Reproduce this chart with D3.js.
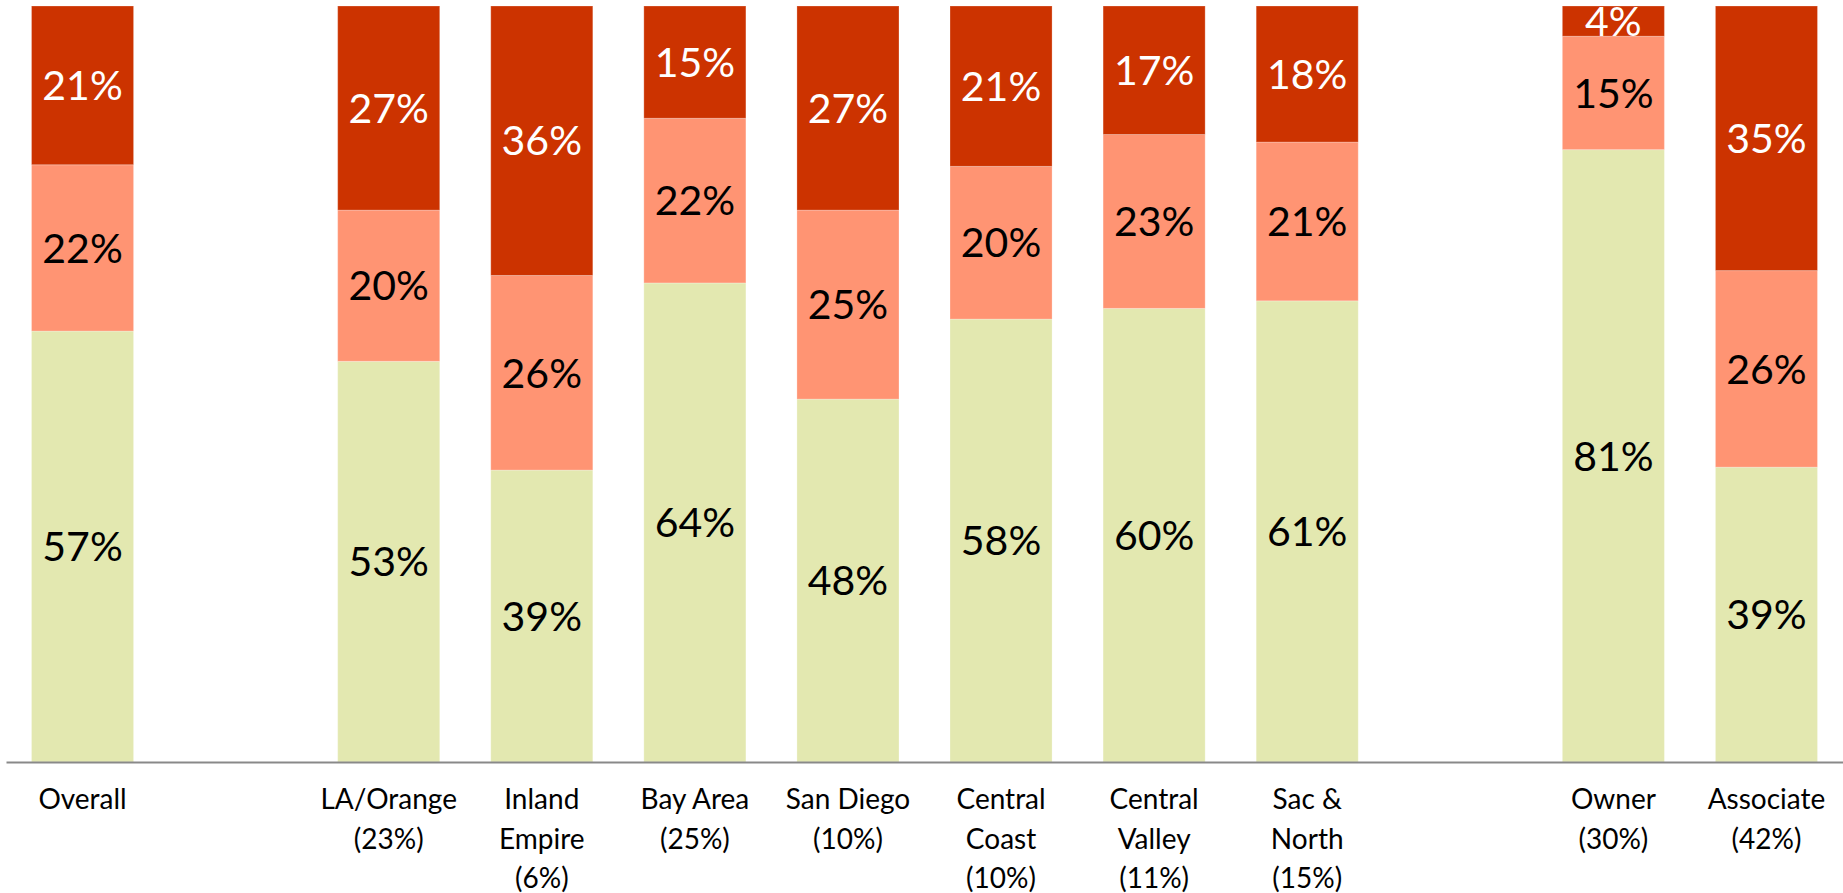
<!DOCTYPE html>
<html>
<head>
<meta charset="utf-8">
<script src="https://cdn.jsdelivr.net/npm/d3@7"></script>
<style>
  body { margin: 0; background: #fff; }
  svg { display: block; }
</style>
</head>
<body>
<div id="chart"></div>
<script>
// categories ("" = empty slot), lines split by \n
var categories = ["Overall", "", "LA/Orange\n(23%)", "Inland\nEmpire\n(6%)", "Bay Area\n(25%)",
  "San Diego\n(10%)", "Central\nCoast\n(10%)", "Central\nValley\n(11%)", "Sac &\nNorth\n(15%)",
  "", "Owner\n(30%)", "Associate\n(42%)"];

// segment values, bottom to top (null for empty slots)
var seriesLow  = [57, null, 53, 39, 64, 48, 58, 60, 61, null, 81, 39];
var seriesMid  = [22, null, 20, 26, 22, 25, 20, 23, 21, null, 15, 26];
var seriesHigh = [21, null, 27, 36, 15, 27, 21, 17, 18, null,  4, 35];

var seriesKeys = ["low", "mid", "high"];
var seriesColors = ["#e3e8b0", "#ff9473", "#cc3300"];
var labelColors = ["#000", "#000", "#fff"];

window.w = 1843;
window.h = 893;
var padTop = 6, axisY = 762;

var rows = [];
for (var i = 0; i < categories.length; i++) {
  if (seriesLow[i] == null) continue;
  rows.push({idx: i, low: seriesLow[i], mid: seriesMid[i], high: seriesHigh[i]});
}

var stacked = d3.stack()
  .keys(seriesKeys)
  .offset(d3.stackOffsetExpand)(rows);

var xScale = d3.scaleBand()
  .domain(d3.range(categories.length))
  .range([6, w])
  .paddingInner(1/3)
  .paddingOuter(1/6);

var yScale = d3.scaleLinear()
  .domain([0, 1])
  .range([axisY, padTop]);

const chart = d3.select("#chart")
  .append("svg")
  .attr("width", w)
  .attr("height", h);

var layers = chart.selectAll("g.layer")
  .data(stacked)
  .enter().append("g")
  .attr("class", "layer")
  .attr("fill", function(d, i) { return seriesColors[i]; });

layers.selectAll("rect")
  .data(function(d) { return d; })
  .enter().append("rect")
  .attr("x", function(d) { return xScale(d.data.idx); })
  .attr("width", xScale.bandwidth())
  .attr("y", function(d) { return yScale(d[1]); })
  .attr("height", function(d) { return yScale(d[0]) - yScale(d[1]); })
  .attr("stroke", "#fff")
  .attr("stroke-opacity", 0.25)
  .attr("stroke-width", 1);

// data labels
stacked.forEach(function(layer, li) {
  chart.append("g")
    .selectAll("text")
    .data(layer)
    .enter().append("text")
    .attr("x", function(d) { return xScale(d.data.idx) + xScale.bandwidth() / 2; })
    .attr("y", function(d) { return yScale((d[0] + d[1]) / 2); })
    .attr("dy", "0.36em")
    .attr("text-anchor", "middle")
    .style("font-family", "Lato, 'Open Sans', sans-serif")
    .style("font-size", "41px")
    .attr("fill", labelColors[li])
    .text(function(d) { return d.data[layer.key] + "%"; });
});

// axis
var xAxis = d3.axisBottom(xScale)
  .tickSize(0)
  .tickSizeOuter(0)
  .tickFormat(function(d) { return categories[d]; });

var g = chart.append("g")
  .attr("transform", "translate(0," + axisY + ")")
  .call(xAxis);

g.select(".domain")
  .attr("stroke", "#898989")
  .attr("stroke-width", 2);

g.selectAll(".tick text").each(function(d) {
  var el = d3.select(this);
  var lines = categories[d].split("\n");
  el.text(null)
    .attr("y", 0)
    .attr("dy", null)
    .attr("fill", "#000")
    .style("font-family", "Lato, 'Open Sans', sans-serif")
    .style("font-size", "28px");
  lines.forEach(function(line, k) {
    el.append("tspan")
      .attr("x", 0)
      .attr("y", 47 + k * 39.5)
      .text(line);
  });
});
</script>
</body>
</html>
